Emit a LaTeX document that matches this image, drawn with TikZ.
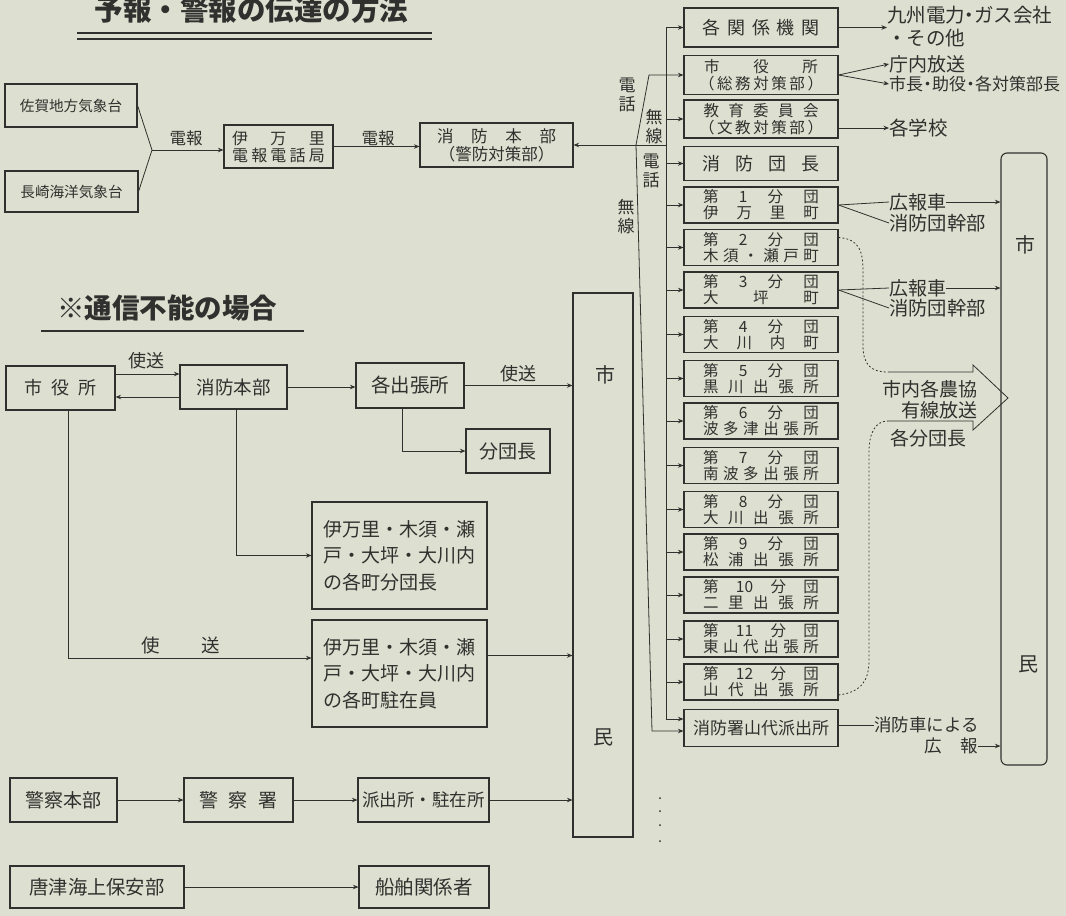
\documentclass[tikz,border=0pt]{standalone}
\usepackage{fontspec}
\setmainfont{Noto Sans CJK JP}
\usetikzlibrary{arrows.meta}
\definecolor{ink}{RGB}{48,48,46}
\definecolor{paper}{RGB}{221,224,208}
\newcommand\fsz[1]{\fontsize{#1}{#1}\selectfont}
\newcommand\fszl[2]{\fontsize{#1}{#2}\selectfont}
\newcommand\sprd[2]{\makebox[#1pt][s]{#2}}
\newcommand\ndot{\makebox[9pt]{・}}
\begin{document}
\begin{tikzpicture}[x=1pt,y=-1pt,
  bx/.style 2 args={draw=ink, line width=1.1pt, minimum width=#1, minimum height=#2, inner sep=0pt, align=center, text=ink},
  lbl/.style={inner sep=0pt, text=ink},
  ln/.style={draw=ink, line width=0.8pt},
  arr/.style={ln, -{Stealth[length=5.5pt,width=4.5pt]}},
  dotc/.style={ln, dash pattern=on 1.8pt off 2.2pt},
  vt/.style={lbl, align=center, font=\fszl{17}{19}},
  uline/.style={draw=ink, line width=2.2pt}
]
\fill[paper] (0,0) rectangle (1066,916);
\useasboundingbox (0,0) rectangle (1066,916);
\clip (0,0) rectangle (1066,916);

% ---------- titles
\node[lbl, font=\fsz{28.5}\bfseries, anchor=base] (title) at (251.5,20) {予報・警報の伝達の方法};
\draw[uline] (77,33) -- (432,33);
\draw[uline] (77,39) -- (432,39);
\node[lbl, font=\fsz{27.5}\bfseries] (title2) at (167,308) {※通信不能の場合};
\draw[uline] (41,331) -- (304,331);

% ---------- top left chain
\node[bx={132}{43}, font=\fsz{14.6}] (saga) at (71,105.5) {佐賀地方気象台};
\node[bx={133}{41}, font=\fsz{14.6}] (nagasaki) at (71.5,191.5) {長崎海洋気象台};
\node[bx={109}{43}, font=\fszl{16}{17}] (imari) at (278.5,146.5) {\sprd{93}{伊 万 里}\\\sprd{93}{電 報 電 話 局}};
\node[bx={153}{44}, font=\fszl{16.5}{18}] (hq) at (496.5,145) {\sprd{119}{消 防 本 部}\\（警防対策部）};
\coordinate (j1) at (152,150);
\draw[ln] (saga.east) -- (j1) -- (nagasaki.east);
\draw[arr] (j1) -- (j1 -| imari.west);
\node[lbl, font=\fsz{16.5}] (denpo1) at (186,138) {電報};
\draw[arr] (imari.east) -- (imari.east -| hq.west);
\node[lbl, font=\fsz{16.5}] (denpo2) at (378,138) {電報};

% ---------- right column
\coordinate (bus) at (666,0);
\node[bx={154}{39}, font=\fsz{18}] (kankei) at (761,27.5) {\sprd{117}{各 関 係 機 関}};
\node[bx={154}{39}, font=\fszl{15.5}{16.5}] (shiyaku) at (761,75) {\sprd{114}{市 役 所}\\\sprd{124}{（ 総 務 対 策 部 ）}};
\node[bx={154}{38}, font=\fszl{15.5}{16.5}] (kyoiku) at (761,119) {\sprd{115}{教 育 委 員 会}\\\sprd{124}{（ 文 教 対 策 部 ）}};
\node[bx={154}{34}, font=\fsz{18}] (danchou) at (761,163.5) {\sprd{117}{消 防 団 長}};
\foreach \i/\yy/\pl in {1/205/伊 万 里 町, 2/247.5/木 須 ・ 瀬 戸 町, 3/290/大 坪 町, 4/334.5/大 川 内 町, 5/378.5/黒 川 出 張 所, 6/421/波 多 津 出 張 所, 7/465.5/南 波 多 出 張 所, 8/509.5/大 川 出 張 所, 9/552/松 浦 出 張 所, 10/595/二 里 出 張 所, 11/639/東 山 代 出 張 所, 12/682/山 代 出 張 所}
  \node[bx={154}{36}, font=\fszl{15.5}{16}] (b\i) at (761,\yy) {\sprd{116}{第 \i{} 分 団}\\\sprd{116}{\pl}};
\node[bx={154}{37}, font=\fsz{17}] (shobosho) at (761,728) {消防署山代派出所};

% bus and branches
\draw[ln] (bus |- kankei.west) -- ([yshift=9pt]shobosho.west -| bus);
\draw[arr] (bus |- kankei.west) -- (kankei.west);
\draw[arr] (bus |- kyoiku.west) -- (kyoiku.west);
\draw[arr] (bus |- danchou.west) -- (danchou.west);
\foreach \i in {1,...,12} \draw[arr] (bus |- b\i.west) -- (b\i.west);
\draw[arr] ([yshift=9pt]shobosho.west -| bus) -- ([yshift=9pt]shobosho.west);
\draw[arr] (bus |- hq.east) -- (hq.east);
\coordinate (jb) at (636,145);
\coordinate (dg) at (649,75);
\draw[arr] (jb) -- (dg) -- (shiyaku.west);
\coordinate (sl) at (652,731);
\draw[arr] (jb) -- (sl) -- (sl -| shobosho.west);
\node[vt] (tel1) at (627,95) {電\\話};
\node[vt] (rad1) at (654,127) {無\\線};
\node[vt] (tel2) at (651,171) {電\\話};
\node[vt] (rad2) at (626,217) {無\\線};
\foreach \yy in {798,811,825,841} \fill[ink] (660,\yy) circle (1pt);

% right side texts
\node[lbl, font=\fszl{19.5}{23}, align=left, anchor=west] (kyushu) at (887,26.5) {九州電力\ndot ガス会社\\・その他};
\draw[arr] (kankei.east) -- (kankei.east -| kyushu.west);
\node[lbl, font=\fsz{19}, anchor=west] (chonai) at (889,64) {庁内放送};
\node[lbl, font=\fsz{17}, anchor=west] (shicho) at (889,84) {市長\ndot 助役\ndot 各対策部長};
\draw[arr] (shiyaku.east) -- (chonai.west);
\draw[arr] (shiyaku.east) -- (shicho.west);
\node[lbl, font=\fsz{19.5}, anchor=west] (gakko) at (889,128) {各学校};
\draw[arr] (kyoiku.east |- gakko.west) -- (gakko.west);

\node[bx={46}{612}, rounded corners=6pt] (shimin2) at (1024,459) {};
\node[lbl, font=\fsz{20}] (shi2) at (1025,245) {市};
\node[lbl, font=\fsz{20}] (min2) at (1028,664) {民};

\node[lbl, font=\fsz{19}, anchor=west] (kohosha1) at (889,202) {広報車};
\node[lbl, font=\fsz{19.3}, anchor=west] (kanbu1) at (889,223) {消防団幹部};
\draw[ln] (b1.east) -- (kohosha1.west);
\draw[ln] (b1.east) -- (kanbu1.west);
\draw[arr] (kohosha1.east) -- (kohosha1.east -| shimin2.west);
\node[lbl, font=\fsz{19}, anchor=west] (kohosha3) at (889,288) {広報車};
\node[lbl, font=\fsz{19.3}, anchor=west] (kanbu3) at (889,308) {消防団幹部};
\draw[ln] (b3.east) -- (kohosha3.west);
\draw[ln] (b3.east) -- (kanbu3.west);
\draw[arr] (kohosha3.east) -- (kohosha3.east -| shimin2.west);

% block arrow (agricultural coop wired broadcast)
\coordinate (ct) at (888,372);
\coordinate (cb) at (888,421);
\draw[ln, line join=miter] (ct) -- (973,372) -- (973,365) -- (1008,398) -- (973,430) -- (973,421) -- (cb);
\node[lbl, font=\fsz{19}, anchor=east] (nokyo) at (978,389) {市内各農協};
\node[lbl, font=\fsz{19}, anchor=east] (yusen) at (978,410) {有線放送};
\node[lbl, font=\fsz{19}, anchor=west] (kakubun) at (890,438) {各分団長};
\draw[dotc] ([yshift=10pt]b2.east) .. controls (860,239) and (863,252) .. (863,272) -- (863,345) .. controls (863,364) and (870,372) .. (ct);
\draw[dotc] ([yshift=-13pt]b12.east) .. controls (862,692) and (869,680) .. (869,660) -- (869,452) .. controls (869,432) and (876,421) .. (cb);

% fire engine publicity
\node[lbl, font=\fsz{17.5}, anchor=west] (tsha) at (874,725) {消防車による};
\node[lbl, font=\fsz{17.5}, anchor=east] (koho) at (978,746) {\sprd{53}{広 報}};
\draw[ln] (shobosho.east |- tsha.west) -- (tsha.west);
\draw[arr] (koho.east) -- (koho.east -| shimin2.west);

% ---------- lower left (no communication)
\node[bx={60}{544}] (shimin1) at (603,565) {};
\node[lbl, font=\fsz{20}] (shi1) at (605,375) {市};
\node[lbl, font=\fsz{20}] (min1) at (603,737) {民};

\node[bx={109}{44}, font=\fsz{18}] (shiyakusho2) at (60.5,388) {\sprd{73}{市 役 所}};
\node[bx={107}{44}, font=\fsz{18.5}] (hq2) at (233.5,387) {消防本部};
\node[bx={108}{45}, font=\fsz{19.5}] (demise) at (410,385.5) {各出張所};
\node[bx={84}{44}, font=\fsz{19}] (bundan) at (508,451) {分団長};
\node[bx={175}{107}, font=\fszl{19}{26.5}, align=left] (tbox1) at (399.5,555.5) {伊万里・木須・瀬\\戸・大坪・大川内\\の各町分団長};
\node[bx={175}{107}, font=\fszl{19}{26.5}, align=left] (tbox2) at (399.5,673.5) {伊万里・木須・瀬\\戸・大坪・大川内\\の各町駐在員};

\draw[arr] ([yshift=14pt]shiyakusho2.east) -- ([yshift=14pt]shiyakusho2.east -| hq2.west);
\draw[arr] ([yshift=-10pt]hq2.west) -- ([yshift=-10pt]hq2.west -| shiyakusho2.east);
\node[lbl, font=\fsz{18}] (shiso1) at (146,361) {使送};
\draw[arr] (hq2.east) -- (hq2.east -| demise.west);
\draw[arr] (demise.east) -- (demise.east -| shimin1.west);
\node[lbl, font=\fsz{18}] (shiso2) at (518,374) {使送};
\draw[arr] ([xshift=-8pt]demise.south) |- (bundan.west);
\draw[arr] ([xshift=2.5pt]hq2.south) |- (tbox1.west);
\draw[arr] ([xshift=7.5pt]shiyakusho2.south) |- ([yshift=15.5pt]tbox2.west);
\node[lbl, font=\fsz{18.5}] (shiso3) at (181,645) {\sprd{79}{使 送}};
\draw[arr] ([yshift=18pt]tbox2.east) -- ([yshift=18pt]tbox2.east -| shimin1.west);

\node[bx={107}{44}, font=\fsz{19}] (keisatsu) at (63.5,800) {警察本部};
\node[bx={109}{44}, font=\fsz{19}] (keisatsusho) at (238.5,800) {\sprd{79}{警 察 署}};
\node[bx={131}{44}, font=\fsz{17.5}] (hashutsu) at (423.5,800) {派出所・駐在所};
\draw[arr] (keisatsu.east) -- (keisatsusho.west);
\draw[arr] (keisatsusho.east) -- (hashutsu.west);
\draw[arr] (hashutsu.east) -- (hashutsu.east -| shimin1.west);
\node[bx={174}{42}, font=\fsz{19.3}] (karatsu) at (97,887) {唐津海上保安部};
\node[bx={130}{42}, font=\fsz{19.5}] (senpaku) at (424,887) {船舶関係者};
\draw[arr] (karatsu.east) -- (senpaku.west);
\end{tikzpicture}
\end{document}
